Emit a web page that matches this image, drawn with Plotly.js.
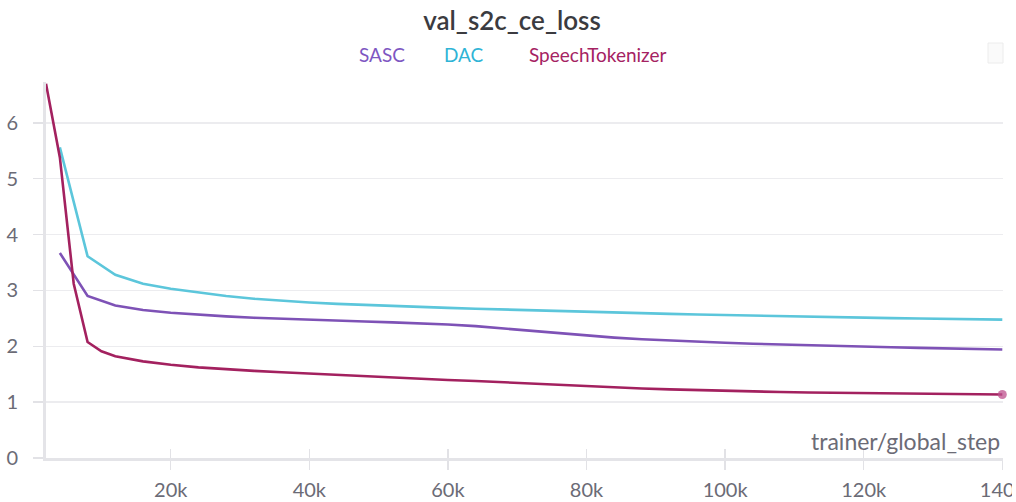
<!DOCTYPE html>
<html>
<head>
<meta charset="utf-8">
<script src="https://cdn.plot.ly/plotly-3.0.1.min.js"></script>
<style>
  html, body { margin: 0; padding: 0; background: #ffffff; overflow: hidden; }
  #chart { width: 1012px; height: 502px; }
</style>
</head>
<body>
<div id="chart"></div>
<script>
// ---- data ----
const chartTitle = "val_s2c_ce_loss";
const xTitle = "trainer/global_step";
const seriesNames = ["SASC", "DAC", "SpeechTokenizer"];

const stepsCoarse = [4000, 8000, 12000, 16000, 20000, 24000, 28000, 32000, 36000, 40000,
  44000, 48000, 52000, 56000, 60000, 64000, 68000, 72000, 76000, 80000,
  84000, 88000, 92000, 96000, 100000, 104000, 108000, 112000, 116000, 120000,
  124000, 128000, 132000, 136000, 140000];

const sascLoss = [3.67, 2.90, 2.73, 2.65, 2.60, 2.565, 2.535, 2.51, 2.49, 2.472,
  2.457, 2.443, 2.428, 2.412, 2.39, 2.36, 2.32, 2.275, 2.23, 2.19,
  2.155, 2.125, 2.10, 2.08, 2.062, 2.046, 2.031, 2.017, 2.004, 1.992,
  1.981, 1.971, 1.961, 1.951, 1.942];

const dacLoss = [5.56, 3.61, 3.28, 3.12, 3.03, 2.96, 2.90, 2.85, 2.81, 2.782,
  2.758, 2.737, 2.718, 2.702, 2.687, 2.672, 2.657, 2.643, 2.63, 2.617,
  2.604, 2.592, 2.58, 2.569, 2.558, 2.548, 2.538, 2.529, 2.52, 2.512,
  2.504, 2.497, 2.49, 2.483, 2.476];

const stepsST = [2000, 4000, 6000, 8000, 10000, 12000, 16000, 20000, 24000, 28000,
  32000, 36000, 40000, 44000, 48000, 52000, 56000, 60000, 64000, 68000,
  72000, 76000, 80000, 84000, 88000, 92000, 96000, 100000, 104000, 108000,
  112000, 116000, 120000, 124000, 128000, 132000, 136000, 140000];

const stLoss = [6.70, 5.38, 3.12, 2.075, 1.91, 1.82, 1.73, 1.668, 1.622, 1.587,
  1.56, 1.535, 1.51, 1.485, 1.46, 1.437, 1.416, 1.397, 1.378, 1.354,
  1.328, 1.303, 1.282, 1.262, 1.244, 1.228, 1.214, 1.202, 1.191, 1.181,
  1.172, 1.165, 1.158, 1.152, 1.147, 1.142, 1.139, 1.136];

const xTickVals = [20000, 40000, 60000, 80000, 100000, 120000, 140000];
const xTickText = ["20k", "40k", "60k", "80k", "100k", "120k", "140k"];
const yTickVals = [0, 1, 2, 3, 4, 5, 6];

// ---- styling ----
const FONT = "Lato, 'Noto Sans', sans-serif";
const lineColors = ["#7e52b6", "#5cc6db", "#a3215f"];
const legendColors = ["#7e57c2", "#2fb4d6", "#a52262"];
const axisGray = "#6b6b76";
const W = 1012;

const traces = [
  { x: stepsCoarse, y: sascLoss, name: seriesNames[0], type: "scatter", mode: "lines",
    line: { color: lineColors[0], width: 2.6 }, hoverinfo: "skip" },
  { x: stepsCoarse, y: dacLoss, name: seriesNames[1], type: "scatter", mode: "lines",
    line: { color: lineColors[1], width: 2.6 }, hoverinfo: "skip" },
  { x: stepsST, y: stLoss, name: seriesNames[2], type: "scatter", mode: "lines",
    line: { color: lineColors[2], width: 2.6 }, hoverinfo: "skip" },
  { x: [stepsST[stepsST.length - 1]], y: [stLoss[stLoss.length - 1]], xaxis: "x2",
    type: "scatter", mode: "markers", cliponaxis: false, showlegend: false,
    marker: { color: "rgba(190,80,140,0.75)", size: 9, line: { width: 0 } }, hoverinfo: "skip" }
];

const L = 46, R = 1003, T = 82, B = 458;
const pw = R - L, ph = B - T;
const px = v => (v - L) / pw;
const py = v => (B - v) / ph;

const legendX = [381.5, 464, 597.5];
const annotations = seriesNames.map((n, i) => ({
  text: n, xref: "paper", yref: "paper", x: px(legendX[i]), y: py(55),
  xanchor: "center", yanchor: "middle", showarrow: false,
  font: { family: FONT, size: 19, color: legendColors[i] }
}));
annotations.push({
  text: xTitle, xref: "paper", yref: "paper", x: px(1002), y: py(441),
  xanchor: "right", yanchor: "middle", showarrow: false,
  font: { family: FONT, size: 23, color: axisGray }
});

const layout = {
  width: W, height: 502,
  margin: { l: L, r: W - R, t: T, b: 502 - B, pad: 0 },
  paper_bgcolor: "#ffffff", plot_bgcolor: "#ffffff",
  showlegend: false,
  font: { family: FONT, color: axisGray },
  title: {
    text: chartTitle, xref: "container", yref: "container",
    x: 512 / W, xanchor: "center", y: 1 - 21 / 502, yanchor: "middle",
    font: { family: FONT, size: 26, color: "#3b3b40", weight: 600 }
  },
  xaxis: {
    range: [2000, 140100], tickvals: xTickVals, ticktext: xTickText,
    ticks: "outside", ticklen: 9, tickwidth: 1.5, tickcolor: "#e2e2e6",
    showgrid: false, zeroline: false, showline: true, linecolor: "#e4e4e8", linewidth: 3,
    ticklabelstandoff: 3, ticklabeloverflow: "allow", automargin: false,
    tickfont: { family: FONT, size: 20, color: axisGray }
  },
  xaxis2: {
    overlaying: "x", matches: "x", tickvals: xTickVals, ticks: "inside", ticklen: 9,
    tickwidth: 1.5, tickcolor: "#e2e2e6", showticklabels: false, showgrid: false,
    zeroline: false, showline: false
  },
  yaxis: {
    range: [0, 6.73], tickvals: yTickVals,
    ticks: "outside", ticklen: 10, tickwidth: 1.5, tickcolor: "#e2e2e6",
    showgrid: true, gridcolor: "#ececef", gridwidth: 1.5,
    zeroline: false, showline: true, linecolor: "#e4e4e8", linewidth: 3,
    ticklabelstandoff: 11, automargin: false,
    tickfont: { family: FONT, size: 20, color: axisGray }
  },
  shapes: [{
    type: "rect", xref: "paper", yref: "paper",
    x0: px(988), x1: px(1003), y0: py(63), y1: py(43),
    fillcolor: "#fafafa", line: { color: "#ececec", width: 1 }
  }],
  annotations: annotations
};

Plotly.newPlot("chart", traces, layout, { displayModeBar: false, staticPlot: true });
</script>
</body>
</html>
